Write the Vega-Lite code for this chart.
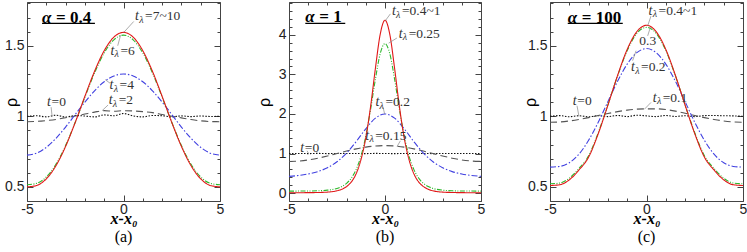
{
"$schema":"https://vega.github.io/schema/vega-lite/v6.json",
"padding":{"left":2,"top":1,"right":2,"bottom":0},
"autosize":{"type":"pad"},
"background":"white",
"bounds":"flush",
"spacing":69,
"datasets":{
"curves":[
{"p":"a","x":-5,"r":0.5,"g":0.515,"b":0.725,"d":0.962,"k":1.0},
{"p":"a","x":-4.5,"r":0.51,"g":0.525,"b":0.739,"d":0.964,"k":1.004},
{"p":"a","x":-4,"r":0.557,"g":0.57,"b":0.78,"d":0.97,"k":0.996},
{"p":"a","x":-3.5,"r":0.65,"g":0.66,"b":0.844,"d":0.978,"k":1.008},
{"p":"a","x":-3,"r":0.787,"g":0.793,"b":0.924,"d":0.99,"k":0.995},
{"p":"a","x":-2.5,"r":0.957,"g":0.958,"b":1.013,"d":1.002,"k":1.006},
{"p":"a","x":-2,"r":1.142,"g":1.136,"b":1.101,"d":1.016,"k":1.002},
{"p":"a","x":-1.5,"r":1.319,"g":1.308,"b":1.181,"d":1.03,"k":0.996},
{"p":"a","x":-1,"r":1.465,"g":1.449,"b":1.245,"d":1.04,"k":1.01},
{"p":"a","x":-0.5,"r":1.561,"g":1.542,"b":1.286,"d":1.036,"k":1.004},
{"p":"a","x":0,"r":1.595,"g":1.575,"b":1.3,"d":1.04,"k":1.02},
{"p":"a","x":0.5,"r":1.561,"g":1.542,"b":1.286,"d":1.038,"k":1.003},
{"p":"a","x":1,"r":1.465,"g":1.449,"b":1.245,"d":1.033,"k":0.996},
{"p":"a","x":1.5,"r":1.319,"g":1.308,"b":1.181,"d":1.026,"k":1.006},
{"p":"a","x":2,"r":1.142,"g":1.136,"b":1.101,"d":1.013,"k":1.004},
{"p":"a","x":2.5,"r":0.957,"g":0.958,"b":1.013,"d":1.001,"k":0.996},
{"p":"a","x":3,"r":0.787,"g":0.793,"b":0.924,"d":0.989,"k":1.003},
{"p":"a","x":3.5,"r":0.65,"g":0.66,"b":0.844,"d":0.977,"k":0.998},
{"p":"a","x":4,"r":0.557,"g":0.57,"b":0.78,"d":0.968,"k":1.002},
{"p":"a","x":4.5,"r":0.51,"g":0.525,"b":0.739,"d":0.963,"k":0.999},
{"p":"a","x":5,"r":0.5,"g":0.515,"b":0.725,"d":0.962,"k":1.0},
{"p":"b","x":-5,"r":0.01,"g":0.05,"b":0.423,"d":0.8,"k":1.0},
{"p":"b","x":-4.5,"r":0.01,"g":0.051,"b":0.446,"d":0.81,"k":1.002},
{"p":"b","x":-4,"r":0.011,"g":0.053,"b":0.483,"d":0.838,"k":0.998},
{"p":"b","x":-3.5,"r":0.015,"g":0.058,"b":0.543,"d":0.882,"k":1.003},
{"p":"b","x":-3,"r":0.025,"g":0.074,"b":0.641,"d":0.938,"k":0.998},
{"p":"b","x":-2.5,"r":0.058,"g":0.118,"b":0.793,"d":1.0,"k":1.002},
{"p":"b","x":-2.25,"r":0.097,"g":0.166,"b":null,"d":null,"k":null},
{"p":"b","x":-2,"r":0.165,"g":0.246,"b":1.011,"d":1.062,"k":0.999},
{"p":"b","x":-1.75,"r":0.285,"g":0.38,"b":null,"d":null,"k":null},
{"p":"b","x":-1.5,"r":0.492,"g":0.6,"b":1.302,"d":1.118,"k":1.002},
{"p":"b","x":-1.25,"r":0.847,"g":0.938,"b":null,"d":null,"k":null},
{"p":"b","x":-1,"r":1.396,"g":1.44,"b":1.625,"d":1.162,"k":0.998},
{"p":"b","x":-0.75,"r":2.19,"g":2.118,"b":null,"d":null,"k":null},
{"p":"b","x":-0.5,"r":3.152,"g":2.88,"b":1.894,"d":1.19,"k":1.003},
{"p":"b","x":-0.25,"r":4.012,"g":3.523,"b":null,"d":null,"k":null},
{"p":"b","x":0,"r":4.37,"g":3.78,"b":2.0,"d":1.2,"k":1.0},
{"p":"b","x":0.25,"r":4.012,"g":3.523,"b":null,"d":null,"k":null},
{"p":"b","x":0.5,"r":3.152,"g":2.88,"b":1.894,"d":1.19,"k":0.998},
{"p":"b","x":0.75,"r":2.19,"g":2.118,"b":null,"d":null,"k":null},
{"p":"b","x":1,"r":1.396,"g":1.44,"b":1.625,"d":1.162,"k":1.002},
{"p":"b","x":1.25,"r":0.847,"g":0.938,"b":null,"d":null,"k":null},
{"p":"b","x":1.5,"r":0.492,"g":0.6,"b":1.302,"d":1.118,"k":0.999},
{"p":"b","x":1.75,"r":0.285,"g":0.38,"b":null,"d":null,"k":null},
{"p":"b","x":2,"r":0.165,"g":0.246,"b":1.011,"d":1.062,"k":1.002},
{"p":"b","x":2.25,"r":0.097,"g":0.166,"b":null,"d":null,"k":null},
{"p":"b","x":2.5,"r":0.058,"g":0.118,"b":0.793,"d":1.0,"k":0.998},
{"p":"b","x":3,"r":0.025,"g":0.074,"b":0.641,"d":0.938,"k":1.002},
{"p":"b","x":3.5,"r":0.015,"g":0.058,"b":0.543,"d":0.882,"k":0.999},
{"p":"b","x":4,"r":0.011,"g":0.053,"b":0.483,"d":0.838,"k":1.002},
{"p":"b","x":4.5,"r":0.01,"g":0.051,"b":0.446,"d":0.81,"k":0.999},
{"p":"b","x":5,"r":0.01,"g":0.05,"b":0.423,"d":0.8,"k":1.0},
{"p":"c","x":-5,"r":0.51,"g":0.522,"b":0.64,"d":0.958,"k":1.0},
{"p":"c","x":-4.5,"r":0.515,"g":0.527,"b":0.645,"d":0.96,"k":1.005},
{"p":"c","x":-4,"r":0.55,"g":0.562,"b":0.671,"d":0.967,"k":0.997},
{"p":"c","x":-3.5,"r":0.62,"g":0.63,"b":0.732,"d":0.978,"k":1.004},
{"p":"c","x":-3,"r":0.711,"g":0.72,"b":0.83,"d":0.991,"k":0.996},
{"p":"c","x":-2.5,"r":0.877,"g":0.884,"b":0.958,"d":1.006,"k":1.005},
{"p":"c","x":-2,"r":1.079,"g":1.081,"b":1.104,"d":1.02,"k":0.998},
{"p":"c","x":-1.5,"r":1.289,"g":1.286,"b":1.248,"d":1.033,"k":1.006},
{"p":"c","x":-1,"r":1.474,"g":1.466,"b":1.37,"d":1.044,"k":0.998},
{"p":"c","x":-0.5,"r":1.6,"g":1.588,"b":1.451,"d":1.051,"k":1.008},
{"p":"c","x":0,"r":1.645,"g":1.63,"b":1.48,"d":1.053,"k":1.003},
{"p":"c","x":0.5,"r":1.6,"g":1.588,"b":1.451,"d":1.053,"k":0.998},
{"p":"c","x":1,"r":1.474,"g":1.466,"b":1.37,"d":1.048,"k":1.006},
{"p":"c","x":1.5,"r":1.289,"g":1.286,"b":1.248,"d":1.037,"k":0.999},
{"p":"c","x":2,"r":1.079,"g":1.081,"b":1.104,"d":1.022,"k":1.004},
{"p":"c","x":2.5,"r":0.877,"g":0.884,"b":0.958,"d":1.006,"k":0.998},
{"p":"c","x":3,"r":0.711,"g":0.72,"b":0.83,"d":0.991,"k":1.005},
{"p":"c","x":3.5,"r":0.62,"g":0.63,"b":0.732,"d":0.978,"k":1.006},
{"p":"c","x":4,"r":0.55,"g":0.562,"b":0.671,"d":0.967,"k":1.004},
{"p":"c","x":4.5,"r":0.515,"g":0.527,"b":0.645,"d":0.96,"k":1.003},
{"p":"c","x":5,"r":0.51,"g":0.522,"b":0.64,"d":0.958,"k":1.0}
],
"ann":[
{"p":"a","k":"L","x":0.6,"y":1.71,"r":"=7~10"},
{"p":"a","k":"L","x":-0.68,"y":1.465,"r":"=6"},
{"p":"a","k":"L","x":-0.72,"y":1.22,"r":"=4"},
{"p":"a","k":"L","x":-0.77,"y":1.115,"r":"=2"},
{"p":"a","k":"Z","x":-3.96,"y":1.098,"r":"=0"},
{"p":"b","k":"L","x":0.36,"y":4.6,"r":"=0.4~1"},
{"p":"b","k":"L","x":0.71,"y":4.03,"r":"=0.25"},
{"p":"b","k":"L","x":-0.5,"y":2.29,"r":"=0.2"},
{"p":"b","k":"L","x":-1.03,"y":1.45,"r":"=0.15"},
{"p":"b","k":"Z","x":-4.41,"y":1.15,"r":"=0"},
{"p":"c","k":"L","x":0.11,"y":1.748,"r":"=0.4~1"},
{"p":"c","k":"P","x":-0.37,"y":1.535,"r":"0.3"},
{"p":"c","k":"L","x":-0.8,"y":1.346,"r":"=0.2"},
{"p":"c","k":"L","x":0.32,"y":1.13,"r":"=0.1"},
{"p":"c","k":"Z","x":-3.82,"y":1.11,"r":"=0"}
],
"lead":[
{"p":"a","x":0.53,"y":1.672,"x2":0.01,"y2":1.594},
{"p":"a","x":-0.15,"y":1.575,"x2":-0.3,"y2":1.5},
{"p":"a","x":-0.95,"y":1.26,"x2":-0.7,"y2":1.235},
{"p":"a","x":-1.11,"y":1.04,"x2":-0.8,"y2":1.08},
{"p":"a","x":-3.75,"y":1.065,"x2":-3.7,"y2":1.0},
{"p":"b","x":0.28,"y":4.53,"x2":0.02,"y2":4.36},
{"p":"b","x":0.62,"y":3.92,"x2":0.19,"y2":3.79},
{"p":"b","x":-0.1,"y":2.17,"x2":-0.02,"y2":2.0},
{"p":"b","x":0.8,"y":1.32,"x2":0.63,"y2":1.18},
{"p":"b","x":-4.06,"y":1.07,"x2":-3.97,"y2":0.99},
{"p":"c","x":0.23,"y":1.71,"x2":0.06,"y2":1.64},
{"p":"c","x":0.06,"y":1.57,"x2":0.2,"y2":1.63},
{"p":"c","x":-0.72,"y":1.394,"x2":-0.54,"y2":1.465},
{"p":"c","x":0.23,"y":1.098,"x2":-0.11,"y2":1.05},
{"p":"c","x":-3.6,"y":1.075,"x2":-3.5,"y2":1.0}
],
"alpha":[
{"p":"a","x":-4.22,"y":1.7,"r":"= 0.4","xe":-1.48,"yu":1.658},
{"p":"b","x":-4.15,"y":4.445,"r":"= 1","xe":-2.07,"yu":4.29},
{"p":"c","x":-4.08,"y":1.7,"r":"= 100","xe":-1.23,"yu":1.658}
]
},
"hconcat":[
{
"width":193,"height":199,
"title":{"text":"(a)","orient":"bottom","anchor":"middle","font":"Liberation Serif","fontSize":16,"fontWeight":"normal","color":"#000","offset":3},
"layer":[
{"data":{"name":"curves"},"transform":[{"filter":"datum.p==='a'"},{"fold":["k","d","b","g","r"],"as":["s","v"]},{"filter":"isValid(datum.v)"}],
"mark":{"type":"line","interpolate":"monotone","strokeWidth":1.1},
"encoding":{
"x":{"field":"x","type":"quantitative","scale":{"domain":[-5,5],"nice":false,"zero":false},"axis":{"orient":"bottom","values":[-5,0,5],"labelExpr":"datum.value < 0 ? '-' + abs(datum.value) : '' + datum.value","ticks":false,"labelFlush":false,"labelPadding":1,"title":"x-x₀","titlePadding":-6}},
"y":{"field":"v","type":"quantitative","scale":{"domain":[0.4,1.81],"nice":false,"zero":false},"axis":{"orient":"left","values":[0.5,1,1.5],"format":"~g","ticks":false,"labelPadding":3,"title":"ρ","titleX":-16,"titleY":100,"titleBaseline":"middle"}},
"color":{"field":"s","type":"nominal","scale":{"domain":["k","d","b","g","r"],"range":["#111111","#555555","#4040e0","#2cb82c","#e01818"]},"legend":null},
"strokeDash":{"field":"s","type":"nominal","scale":{"domain":["k","d","b","g","r"],"range":[[1.5,1.5],[7,4],[6,2,1.5,2],[5,1.5,1,1.5,1,1.5],[1,0]]},"legend":null}}},
{"data":{"name":"curves"},"transform":[{"filter":"datum.p==='a'"}],"mark":{"type":"point","opacity":0},
"encoding":{
"x":{"field":"x","type":"quantitative","axis":{"orient":"bottom","values":[-5,-4,-3,-2,-1,0,1,2,3,4,5],"labels":false,"title":null,"tickSize":{"condition":{"test":"datum.value % 5 === 0","value":-6},"value":-3}}},
"y":{"field":"r","type":"quantitative","axis":{"orient":"left","values":[0.4,0.5,0.6,0.7,0.8,0.9,1,1.1,1.2,1.3,1.4,1.5,1.6,1.7,1.8],"labels":false,"title":null,"tickSize":{"condition":{"test":"abs(datum.value*2-round(datum.value*2))<0.001","value":-6},"value":-3}}}}},
{"data":{"name":"curves"},"transform":[{"filter":"datum.p==='a'"}],"mark":{"type":"point","opacity":0},
"encoding":{
"x":{"field":"x","type":"quantitative","axis":{"orient":"top","values":[-5,-4,-3,-2,-1,0,1,2,3,4,5],"labels":false,"title":null,"tickSize":{"condition":{"test":"datum.value % 5 === 0","value":-6},"value":-3}}},
"y":{"field":"r","type":"quantitative","axis":{"orient":"right","values":[0.4,0.5,0.6,0.7,0.8,0.9,1,1.1,1.2,1.3,1.4,1.5,1.6,1.7,1.8],"labels":false,"title":null,"tickSize":{"condition":{"test":"abs(datum.value*2-round(datum.value*2))<0.001","value":-6},"value":-3}}}}},
{"data":{"name":"lead"},"transform":[{"filter":"datum.p==='a'"}],"mark":{"type":"rule","color":"#888888","strokeWidth":0.7},
"encoding":{"x":{"field":"x","type":"quantitative","axis":null},"y":{"field":"y","type":"quantitative","axis":null},"x2":{"field":"x2"},"y2":{"field":"y2"}}},
{"data":{"name":"ann"},"transform":[{"filter":"datum.p==='a'"}],
"encoding":{"x":{"field":"x","type":"quantitative","axis":null},"y":{"field":"y","type":"quantitative","axis":null}},
"layer":[
{"transform":[{"filter":"datum.k!=='P'"}],"mark":{"type":"text","text":"t","font":"Liberation Serif","fontStyle":"italic","fontSize":14,"align":"left","baseline":"middle","color":"#333333"}},
{"transform":[{"filter":"datum.k==='L'"}],"mark":{"type":"text","text":"λ","font":"Liberation Serif","fontStyle":"italic","fontSize":10,"align":"left","baseline":"middle","dx":4.2,"dy":3.5,"color":"#333333"}},
{"transform":[{"filter":"datum.k==='L'"}],"mark":{"type":"text","font":"Liberation Serif","fontSize":13.5,"align":"left","baseline":"middle","dx":10,"color":"#333333"},"encoding":{"text":{"field":"r"}}},
{"transform":[{"filter":"datum.k==='Z'"}],"mark":{"type":"text","font":"Liberation Serif","fontSize":13.5,"align":"left","baseline":"middle","dx":4.5,"color":"#333333"},"encoding":{"text":{"field":"r"}}},
{"transform":[{"filter":"datum.k==='P'"}],"mark":{"type":"text","font":"Liberation Serif","fontSize":13.5,"align":"left","baseline":"middle","color":"#333333"},"encoding":{"text":{"field":"r"}}}
]},
{"data":{"name":"alpha"},"transform":[{"filter":"datum.p==='a'"}],
"layer":[
{"mark":{"type":"text","text":"α","font":"Liberation Serif","fontStyle":"italic","fontWeight":"bold","fontSize":17,"align":"left","baseline":"middle","color":"#000000"},"encoding":{"x":{"field":"x","type":"quantitative","axis":null},"y":{"field":"y","type":"quantitative","axis":null}}},
{"mark":{"type":"text","font":"Liberation Serif","fontWeight":"bold","fontSize":17,"align":"left","baseline":"middle","dx":14,"color":"#000000"},"encoding":{"x":{"field":"x","type":"quantitative","axis":null},"y":{"field":"y","type":"quantitative","axis":null},"text":{"field":"r"}}},
{"mark":{"type":"rule","color":"#000000","strokeWidth":1.2},"encoding":{"x":{"field":"x","type":"quantitative","axis":null},"x2":{"field":"xe"},"y":{"field":"yu","type":"quantitative","axis":null}}}
]}
],
"resolve":{"axis":{"x":"independent","y":"independent"}}
},
{
"width":192,"height":199,
"title":{"text":"(b)","orient":"bottom","anchor":"middle","font":"Liberation Serif","fontSize":16,"fontWeight":"normal","color":"#000","offset":3},
"layer":[
{"data":{"name":"curves"},"transform":[{"filter":"datum.p==='b'"},{"fold":["k","d","b","g","r"],"as":["s","v"]},{"filter":"isValid(datum.v)"}],
"mark":{"type":"line","interpolate":"monotone","strokeWidth":1.1},
"encoding":{
"x":{"field":"x","type":"quantitative","scale":{"domain":[-5,5],"nice":false,"zero":false},"axis":{"orient":"bottom","values":[-5,0,5],"labelExpr":"datum.value < 0 ? '-' + abs(datum.value) : '' + datum.value","ticks":false,"labelFlush":false,"labelPadding":1,"title":"x-x₀","titlePadding":-6}},
"y":{"field":"v","type":"quantitative","scale":{"domain":[-0.2,4.83],"nice":false,"zero":false},"axis":{"orient":"left","values":[0,1,2,3,4],"format":"~g","ticks":false,"labelPadding":3,"title":"ρ","titleX":-25,"titleY":100,"titleBaseline":"middle"}},
"color":{"field":"s","type":"nominal","scale":{"domain":["k","d","b","g","r"],"range":["#111111","#555555","#4040e0","#2cb82c","#e01818"]},"legend":null},
"strokeDash":{"field":"s","type":"nominal","scale":{"domain":["k","d","b","g","r"],"range":[[1.5,1.5],[7,4],[6,2,1.5,2],[5,1.5,1,1.5,1,1.5],[1,0]]},"legend":null}}},
{"data":{"name":"curves"},"transform":[{"filter":"datum.p==='b'"}],"mark":{"type":"point","opacity":0},
"encoding":{
"x":{"field":"x","type":"quantitative","axis":{"orient":"bottom","values":[-5,-4,-3,-2,-1,0,1,2,3,4,5],"labels":false,"title":null,"tickSize":{"condition":{"test":"datum.value % 5 === 0","value":-6},"value":-3}}},
"y":{"field":"r","type":"quantitative","axis":{"orient":"left","values":[-0.2,0,0.2,0.4,0.6,0.8,1,1.2,1.4,1.6,1.8,2,2.2,2.4,2.6,2.8,3,3.2,3.4,3.6,3.8,4,4.2,4.4,4.6,4.8],"labels":false,"title":null,"tickSize":{"condition":{"test":"abs(datum.value-round(datum.value))<0.001","value":-6},"value":-3}}}}},
{"data":{"name":"curves"},"transform":[{"filter":"datum.p==='b'"}],"mark":{"type":"point","opacity":0},
"encoding":{
"x":{"field":"x","type":"quantitative","axis":{"orient":"top","values":[-5,-4,-3,-2,-1,0,1,2,3,4,5],"labels":false,"title":null,"tickSize":{"condition":{"test":"datum.value % 5 === 0","value":-6},"value":-3}}},
"y":{"field":"r","type":"quantitative","axis":{"orient":"right","values":[-0.2,0,0.2,0.4,0.6,0.8,1,1.2,1.4,1.6,1.8,2,2.2,2.4,2.6,2.8,3,3.2,3.4,3.6,3.8,4,4.2,4.4,4.6,4.8],"labels":false,"title":null,"tickSize":{"condition":{"test":"abs(datum.value-round(datum.value))<0.001","value":-6},"value":-3}}}}},
{"data":{"name":"lead"},"transform":[{"filter":"datum.p==='b'"}],"mark":{"type":"rule","color":"#888888","strokeWidth":0.7},
"encoding":{"x":{"field":"x","type":"quantitative","axis":null},"y":{"field":"y","type":"quantitative","axis":null},"x2":{"field":"x2"},"y2":{"field":"y2"}}},
{"data":{"name":"ann"},"transform":[{"filter":"datum.p==='b'"}],
"encoding":{"x":{"field":"x","type":"quantitative","axis":null},"y":{"field":"y","type":"quantitative","axis":null}},
"layer":[
{"transform":[{"filter":"datum.k!=='P'"}],"mark":{"type":"text","text":"t","font":"Liberation Serif","fontStyle":"italic","fontSize":14,"align":"left","baseline":"middle","color":"#333333"}},
{"transform":[{"filter":"datum.k==='L'"}],"mark":{"type":"text","text":"λ","font":"Liberation Serif","fontStyle":"italic","fontSize":10,"align":"left","baseline":"middle","dx":4.2,"dy":3.5,"color":"#333333"}},
{"transform":[{"filter":"datum.k==='L'"}],"mark":{"type":"text","font":"Liberation Serif","fontSize":13.5,"align":"left","baseline":"middle","dx":10,"color":"#333333"},"encoding":{"text":{"field":"r"}}},
{"transform":[{"filter":"datum.k==='Z'"}],"mark":{"type":"text","font":"Liberation Serif","fontSize":13.5,"align":"left","baseline":"middle","dx":4.5,"color":"#333333"},"encoding":{"text":{"field":"r"}}},
{"transform":[{"filter":"datum.k==='P'"}],"mark":{"type":"text","font":"Liberation Serif","fontSize":13.5,"align":"left","baseline":"middle","color":"#333333"},"encoding":{"text":{"field":"r"}}}
]},
{"data":{"name":"alpha"},"transform":[{"filter":"datum.p==='b'"}],
"layer":[
{"mark":{"type":"text","text":"α","font":"Liberation Serif","fontStyle":"italic","fontWeight":"bold","fontSize":17,"align":"left","baseline":"middle","color":"#000000"},"encoding":{"x":{"field":"x","type":"quantitative","axis":null},"y":{"field":"y","type":"quantitative","axis":null}}},
{"mark":{"type":"text","font":"Liberation Serif","fontWeight":"bold","fontSize":17,"align":"left","baseline":"middle","dx":14,"color":"#000000"},"encoding":{"x":{"field":"x","type":"quantitative","axis":null},"y":{"field":"y","type":"quantitative","axis":null},"text":{"field":"r"}}},
{"mark":{"type":"rule","color":"#000000","strokeWidth":1.2},"encoding":{"x":{"field":"x","type":"quantitative","axis":null},"x2":{"field":"xe"},"y":{"field":"yu","type":"quantitative","axis":null}}}
]}
],
"resolve":{"axis":{"x":"independent","y":"independent"}}
},
{
"width":193,"height":199,
"title":{"text":"(c)","orient":"bottom","anchor":"middle","font":"Liberation Serif","fontSize":16,"fontWeight":"normal","color":"#000","offset":3},
"layer":[
{"data":{"name":"curves"},"transform":[{"filter":"datum.p==='c'"},{"fold":["k","d","b","g","r"],"as":["s","v"]},{"filter":"isValid(datum.v)"}],
"mark":{"type":"line","interpolate":"monotone","strokeWidth":1.1},
"encoding":{
"x":{"field":"x","type":"quantitative","scale":{"domain":[-5,5],"nice":false,"zero":false},"axis":{"orient":"bottom","values":[-5,0,5],"labelExpr":"datum.value < 0 ? '-' + abs(datum.value) : '' + datum.value","ticks":false,"labelFlush":false,"labelPadding":1,"title":"x-x₀","titlePadding":-6}},
"y":{"field":"v","type":"quantitative","scale":{"domain":[0.4,1.81],"nice":false,"zero":false},"axis":{"orient":"left","values":[0.5,1,1.5],"format":"~g","ticks":false,"labelPadding":3,"title":"ρ","titleX":-20,"titleY":100,"titleBaseline":"middle"}},
"color":{"field":"s","type":"nominal","scale":{"domain":["k","d","b","g","r"],"range":["#111111","#555555","#4040e0","#2cb82c","#e01818"]},"legend":null},
"strokeDash":{"field":"s","type":"nominal","scale":{"domain":["k","d","b","g","r"],"range":[[1.5,1.5],[7,4],[6,2,1.5,2],[5,1.5,1,1.5,1,1.5],[1,0]]},"legend":null}}},
{"data":{"name":"curves"},"transform":[{"filter":"datum.p==='c'"}],"mark":{"type":"point","opacity":0},
"encoding":{
"x":{"field":"x","type":"quantitative","axis":{"orient":"bottom","values":[-5,-4,-3,-2,-1,0,1,2,3,4,5],"labels":false,"title":null,"tickSize":{"condition":{"test":"datum.value % 5 === 0","value":-6},"value":-3}}},
"y":{"field":"r","type":"quantitative","axis":{"orient":"left","values":[0.4,0.5,0.6,0.7,0.8,0.9,1,1.1,1.2,1.3,1.4,1.5,1.6,1.7,1.8],"labels":false,"title":null,"tickSize":{"condition":{"test":"abs(datum.value*2-round(datum.value*2))<0.001","value":-6},"value":-3}}}}},
{"data":{"name":"curves"},"transform":[{"filter":"datum.p==='c'"}],"mark":{"type":"point","opacity":0},
"encoding":{
"x":{"field":"x","type":"quantitative","axis":{"orient":"top","values":[-5,-4,-3,-2,-1,0,1,2,3,4,5],"labels":false,"title":null,"tickSize":{"condition":{"test":"datum.value % 5 === 0","value":-6},"value":-3}}},
"y":{"field":"r","type":"quantitative","axis":{"orient":"right","values":[0.4,0.5,0.6,0.7,0.8,0.9,1,1.1,1.2,1.3,1.4,1.5,1.6,1.7,1.8],"labels":false,"title":null,"tickSize":{"condition":{"test":"abs(datum.value*2-round(datum.value*2))<0.001","value":-6},"value":-3}}}}},
{"data":{"name":"lead"},"transform":[{"filter":"datum.p==='c'"}],"mark":{"type":"rule","color":"#888888","strokeWidth":0.7},
"encoding":{"x":{"field":"x","type":"quantitative","axis":null},"y":{"field":"y","type":"quantitative","axis":null},"x2":{"field":"x2"},"y2":{"field":"y2"}}},
{"data":{"name":"ann"},"transform":[{"filter":"datum.p==='c'"}],
"encoding":{"x":{"field":"x","type":"quantitative","axis":null},"y":{"field":"y","type":"quantitative","axis":null}},
"layer":[
{"transform":[{"filter":"datum.k!=='P'"}],"mark":{"type":"text","text":"t","font":"Liberation Serif","fontStyle":"italic","fontSize":14,"align":"left","baseline":"middle","color":"#333333"}},
{"transform":[{"filter":"datum.k==='L'"}],"mark":{"type":"text","text":"λ","font":"Liberation Serif","fontStyle":"italic","fontSize":10,"align":"left","baseline":"middle","dx":4.2,"dy":3.5,"color":"#333333"}},
{"transform":[{"filter":"datum.k==='L'"}],"mark":{"type":"text","font":"Liberation Serif","fontSize":13.5,"align":"left","baseline":"middle","dx":10,"color":"#333333"},"encoding":{"text":{"field":"r"}}},
{"transform":[{"filter":"datum.k==='Z'"}],"mark":{"type":"text","font":"Liberation Serif","fontSize":13.5,"align":"left","baseline":"middle","dx":4.5,"color":"#333333"},"encoding":{"text":{"field":"r"}}},
{"transform":[{"filter":"datum.k==='P'"}],"mark":{"type":"text","font":"Liberation Serif","fontSize":13.5,"align":"left","baseline":"middle","color":"#333333"},"encoding":{"text":{"field":"r"}}}
]},
{"data":{"name":"alpha"},"transform":[{"filter":"datum.p==='c'"}],
"layer":[
{"mark":{"type":"text","text":"α","font":"Liberation Serif","fontStyle":"italic","fontWeight":"bold","fontSize":17,"align":"left","baseline":"middle","color":"#000000"},"encoding":{"x":{"field":"x","type":"quantitative","axis":null},"y":{"field":"y","type":"quantitative","axis":null}}},
{"mark":{"type":"text","font":"Liberation Serif","fontWeight":"bold","fontSize":17,"align":"left","baseline":"middle","dx":14,"color":"#000000"},"encoding":{"x":{"field":"x","type":"quantitative","axis":null},"y":{"field":"y","type":"quantitative","axis":null},"text":{"field":"r"}}},
{"mark":{"type":"rule","color":"#000000","strokeWidth":1.2},"encoding":{"x":{"field":"x","type":"quantitative","axis":null},"x2":{"field":"xe"},"y":{"field":"yu","type":"quantitative","axis":null}}}
]}
],
"resolve":{"axis":{"x":"independent","y":"independent"}}
}
],
"config":{
"view":{"stroke":"#444444","strokeWidth":1},
"axis":{"domain":false,"grid":false,"minExtent":0,"tickColor":"#444444","tickWidth":1,"labelFont":"Liberation Sans","labelFontSize":14,"labelColor":"#222222","titleFont":"Liberation Serif","titleFontSize":16,"titleFontWeight":"bold","titleFontStyle":"italic","titleColor":"#000000"},
"axisX":{"minExtent":0},
"axisY":{"minExtent":0},
"axisLeft":{"minExtent":0,"titleFont":"Liberation Sans","titleFontStyle":"normal","titleFontWeight":"normal","titleFontSize":16},
"axisRight":{"minExtent":0}
}
}
